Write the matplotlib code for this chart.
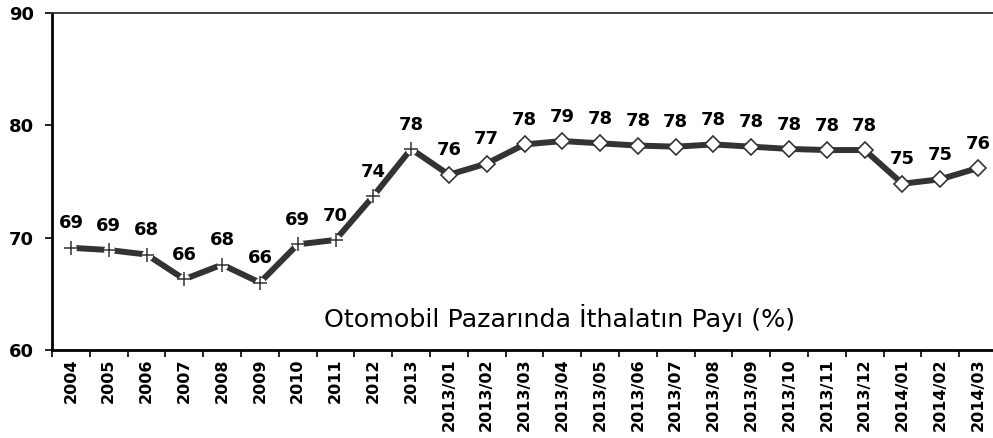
import matplotlib
matplotlib.use("Agg")
import matplotlib.pyplot as plt
import numpy as np

categories = ["2004", "2005", "2006", "2007", "2008", "2009", "2010", "2011", "2012", "2013",
              "2013/01", "2013/02", "2013/03", "2013/04", "2013/05", "2013/06", "2013/07",
              "2013/08", "2013/09", "2013/10", "2013/11", "2013/12", "2014/01", "2014/02", "2014/03"]
values = [69.1, 68.9, 68.5, 66.3, 67.6, 66.0, 69.4, 69.8, 73.7, 77.9,
          75.6, 76.6, 78.3, 78.6, 78.4, 78.2, 78.1, 78.3, 78.1, 77.9, 77.8, 77.8, 74.8, 75.2, 76.2]
n_annual = 10
title = "Otomobil Pazarında İthalatın Payı (%)"

plt.rcParams['font.family'] = ['DejaVu Sans']
fig = plt.figure(figsize=(9.93, 4.38), dpi=100)
ax = fig.add_axes([52/993, 88/438, 945/993, 337/438])

x = np.arange(len(categories))
ax.plot(x, values, color="#333333", lw=4.3, solid_capstyle="butt", zorder=2)
# white gap behind the plus markers
ax.plot(x[:n_annual], values[:n_annual], ls="none", marker="o", ms=8, mew=0,
        mfc="white", zorder=2.5)
ax.plot(x[:n_annual], values[:n_annual], ls="none", marker="+", ms=10, mew=1.1,
        color="#333333", zorder=3)
ax.plot(x[n_annual:], values[n_annual:], ls="none", marker="D", ms=8.5, mew=1.2,
        mfc="white", mec="#333333", zorder=3)

for xi, v in zip(x, values):
    ax.annotate(f"{round(v)}", (xi, v), xytext=(0, 11), textcoords="offset points",
                ha="center", va="bottom", fontsize=13, fontweight="bold", color="black")

ax.set_xlim(-0.5, len(categories) - 0.5)
ax.set_ylim(60, 90)
ax.set_yticks([60, 70, 80, 90])
ax.set_yticklabels(["60", "70", "80", "90"], fontsize=13, fontweight="bold")
ax.set_xticks(x)
ax.set_xticklabels(categories, rotation=90, fontsize=11.5, fontweight="bold")
ax.set_xticks(np.arange(len(categories) + 1) - 0.5, minor=True)
ax.tick_params(axis="x", which="major", length=0, pad=6)
ax.tick_params(axis="x", which="minor", length=5, width=1.2, color="black", direction="out")
ax.tick_params(axis="y", length=5, width=1.2, direction="out", pad=8)

for s in ["left", "bottom"]:
    ax.spines[s].set_linewidth(2)
    ax.spines[s].set_color("black")
ax.spines["top"].set_linewidth(1.3)
ax.spines["top"].set_color("#333333")
ax.spines["right"].set_visible(False)

ax.text(0.5376, 0.068, title, transform=ax.transAxes, ha="center", va="baseline",
        fontsize=18.3, color="black")

fig.savefig("out.png", dpi=100)
